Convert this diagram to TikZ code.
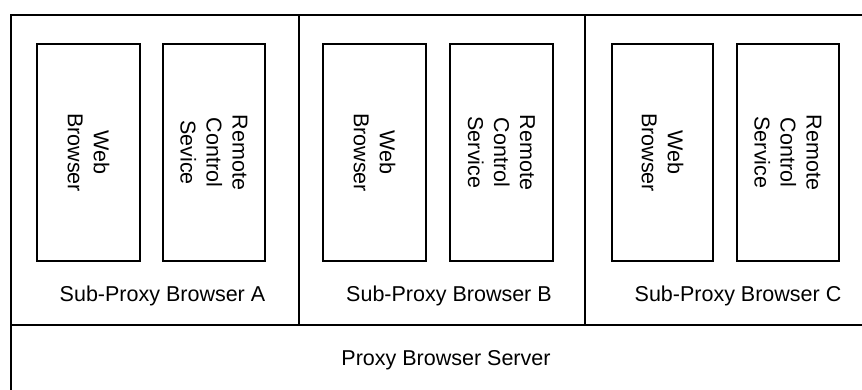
\documentclass[tikz,border=0pt]{standalone}
\usepackage{fontspec}
\setmainfont{Liberation Sans}
\begin{document}
\begin{tikzpicture}[x=1pt,y=-1pt]
\tikzset{
  frame/.style={draw, line width=1.8pt, inner sep=0pt, anchor=north west},
  inbox/.style={draw, line width=1.8pt, inner sep=0pt, minimum height=217pt},
  lbl/.style={font=\fontsize{21.5}{26}\selectfont, align=center, inner sep=0pt},
  vlbl/.style={lbl, rotate=-90}
}
\useasboundingbox (0,0) rectangle (862,390);
\clip (0,0) rectangle (862,390);
% outer frames
\node[frame, minimum width=288pt, minimum height=310pt] (subA) at (10,14) {};
\node[frame, minimum width=286pt, minimum height=310pt] (subB) at (298,14) {};
\node[frame, minimum width=290pt, minimum height=310pt] (subC) at (584,14) {};
\node[frame, minimum width=870pt, minimum height=80pt] (server) at (10,324) {};
% inner boxes
\node[inbox, minimum width=103pt] (webA) at (88.5,152.5) {};
\node[inbox, minimum width=102pt] (remA) at (214,152.5) {};
\node[inbox, minimum width=103pt] (webB) at (374.5,152.5) {};
\node[inbox, minimum width=103pt] (remB) at (501.5,152.5) {};
\node[inbox, minimum width=101pt] (webC) at (662.5,152.5) {};
\node[inbox, minimum width=102pt] (remC) at (788,152.5) {};
% rotated texts
\node[vlbl] (twA) at (webA) {Web\\Browser};
\node[vlbl] (trA) at (remA) {Remote\\Control\\Sevice};
\node[vlbl] (twB) at (webB) {Web\\Browser};
\node[vlbl] (trB) at (remB) {Remote\\Control\\Service};
\node[vlbl] (twC) at (webC) {Web\\Browser};
\node[vlbl] (trC) at (remC) {Remote\\Control\\Service};
% labels
\node[lbl, anchor=base] (lA) at (162.5,301.5) {Sub-Proxy Browser A};
\node[lbl, anchor=base] (lB) at (449,301.5) {Sub-Proxy Browser B};
\node[lbl, anchor=base] (lC) at (738,301.5) {Sub-Proxy Browser C};
\node[lbl, anchor=base] (lS) at (446,365) {Proxy Browser Server};
\end{tikzpicture}
\end{document}
